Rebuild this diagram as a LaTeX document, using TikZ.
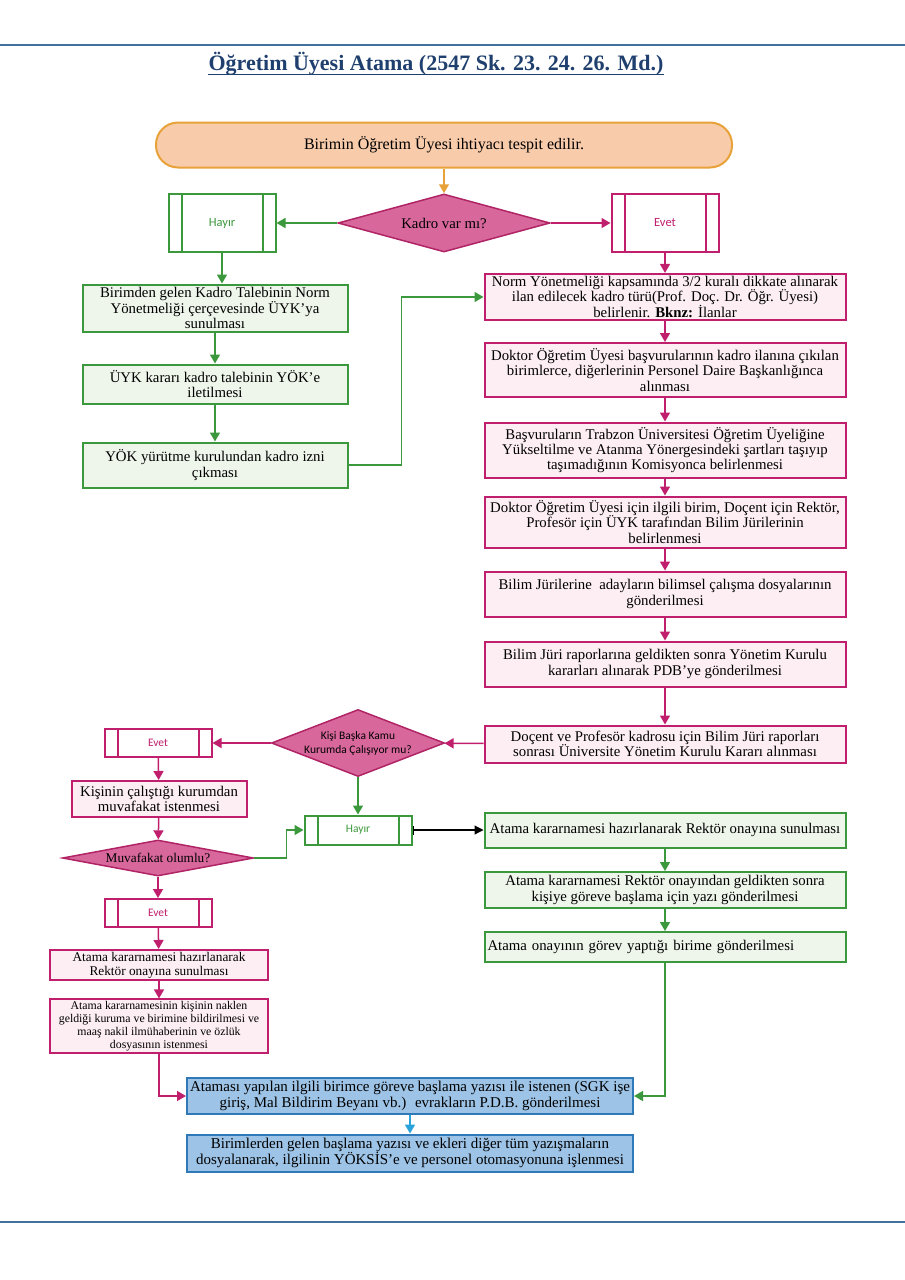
\documentclass[tikz,border=0pt]{standalone}
\usepackage{fontspec}
\setmainfont{Liberation Serif}
\newfontfamily\etiketfont{Carlito}
\usetikzlibrary{shapes.geometric,arrows.meta,positioning}

\definecolor{cizgimavi}{HTML}{41719C}
\definecolor{basliklacivert}{HTML}{1F3F6E}
\definecolor{turuncu}{HTML}{E8A23A}
\definecolor{seftali}{HTML}{F8CBAA}
\definecolor{yesil}{HTML}{3C983C}
\definecolor{acikyesil}{HTML}{EEF5EA}
\definecolor{pembe}{HTML}{C01F6E}
\definecolor{acikpembe}{HTML}{FCEEF3}
\definecolor{kararpembe}{HTML}{D8689C}
\definecolor{kararkenar}{HTML}{B02466}
\definecolor{mavi}{HTML}{2F79B8}
\definecolor{acikmavi}{HTML}{9DC3E6}
\definecolor{okmavi}{HTML}{2AA2DA}

\tikzset{govde/.style={font=\fontsize{14.8}{15.3}\selectfont,align=center,inner sep=2pt},
  basla/.style={govde,draw=turuncu,fill=seftali,line width=2pt,rounded corners=22pt,minimum width=576pt,minimum height=45pt},
  yesilkutu/.style={govde,draw=yesil,fill=acikyesil,line width=2pt,minimum width=361pt},
  pembekutu/.style={govde,draw=pembe,fill=acikpembe,line width=2pt,minimum width=361pt},
  mavikutu/.style={govde,draw=mavi,fill=acikmavi,line width=2pt,minimum width=446pt},
  karar/.style={govde,diamond,draw=kararkenar,fill=kararpembe,line width=1.5pt,inner sep=0pt},
  secim/.style={draw=#1,text=#1,fill=white,line width=2pt,minimum width=107pt,
    font=\etiketfont\fontsize{11.5}{13}\selectfont,
    path picture={\draw[#1,line width=2pt]
      ([xshift=13pt]path picture bounding box.north west) -- ([xshift=13pt]path picture bounding box.south west)
      ([xshift=-13pt]path picture bounding box.north east) -- ([xshift=-13pt]path picture bounding box.south east);}},
  ok/.style={line width=1.5pt,draw=#1,-{Triangle[length=9pt,width=10pt,fill=#1]}}}

\begin{document}
\begin{tikzpicture}[x=1pt,y=-1pt]
  \useasboundingbox (0,0) rectangle (905,1280);
  \draw [cizgimavi,line width=2pt] (0,45) -- (905,45);
  \draw [cizgimavi,line width=2pt] (0,1222) -- (905,1222);

  \node (baslik) [anchor=base,inner xsep=0pt,text=basliklacivert,font=\bfseries\fontsize{22}{26}\selectfont] at (436,70) {Öğretim Üyesi Atama (2547 Sk. 23. 24. 26. Md.)};
  \draw [basliklacivert,line width=1.5pt] ([yshift=-4.5pt]baslik.base west) -- ([yshift=-4.5pt]baslik.base east);

  \node (basla) [basla,font=\fontsize{16}{18}\selectfont] at (444,145) {Birimin Öğretim Üyesi ihtiyacı tespit edilir.};
  \node (kadro) [karar,aspect=3.66,minimum width=212pt,minimum height=58pt] at (444,223) {Kadro var mı?};
  \node (hayir1) [secim=yesil,minimum height=58pt,font=\etiketfont\fontsize{12.5}{14}\selectfont] at (222,223) {Hayır};
  \node (evet1) [secim=pembe,minimum height=58pt,font=\etiketfont\fontsize{12.5}{14}\selectfont] at (665,223) {Evet};

  \node (sol1) [yesilkutu,minimum width=265pt,minimum height=47pt] at (215,308) {Birimden gelen Kadro Talebinin Norm\\Yönetmeliği çerçevesinde ÜYK’ya\\sunulması};
  \node (sol2) [yesilkutu,minimum width=265pt,minimum height=39pt] at (215,384) {ÜYK kararı kadro talebinin YÖK’e\\iletilmesi};
  \node (sol3) [yesilkutu,minimum width=265pt,minimum height=45pt] at (215,465) {YÖK yürütme kurulundan kadro izni\\çıkması};

  \node (sag1) [pembekutu,minimum height=46pt] at (665,297) {Norm Yönetmeliği kapsamında 3/2 kuralı dikkate alınarak\\ilan edilecek kadro türü(Prof. Doç. Dr. Öğr. Üyesi)\\belirlenir. \textbf{Bknz:} İlanlar};
  \node (sag2) [pembekutu,minimum height=54pt] at (665,370) {Doktor Öğretim Üyesi başvurularının kadro ilanına çıkılan\\birimlerce, diğerlerinin Personel Daire Başkanlığınca\\alınması};
  \node (sag3) [pembekutu,minimum height=55pt] at (665,450) {Başvuruların Trabzon Üniversitesi Öğretim Üyeliğine\\Yükseltilme ve Atanma Yönergesindeki şartları taşıyıp\\taşımadığının Komisyonca belirlenmesi};
  \node (sag4) [pembekutu,minimum height=51pt] at (665,522) {Doktor Öğretim Üyesi için ilgili birim, Doçent için Rektör,\\Profesör için ÜYK tarafından Bilim Jürilerinin\\belirlenmesi};
  \node (sag5) [pembekutu,minimum height=45pt] at (665,594) {Bilim Jürilerine \ adayların bilimsel çalışma dosyalarının\\gönderilmesi};
  \node (sag6) [pembekutu,minimum height=45pt] at (665,664) {Bilim Jüri raporlarına geldikten sonra Yönetim Kurulu\\kararları alınarak PDB’ye gönderilmesi};
  \node (sag7) [pembekutu,minimum height=37pt] at (665,744) {Doçent ve Profesör kadrosu için Bilim Jüri raporları\\sonrası Üniversite Yönetim Kurulu Kararı alınması};

  \node (kisi) [karar,aspect=2.58,minimum width=173pt,minimum height=67pt,font=\etiketfont\fontsize{11.5}{14}\selectfont] at (358,743) {Kişi Başka Kamu\\Kurumda Çalışıyor mu?};
  \node (evet2) [secim=pembe,minimum height=28pt] at (158,743) {Evet};
  \node (kurum) [pembekutu,minimum width=175pt,minimum height=36pt] at (159,799) {Kişinin çalıştığı kurumdan\\muvafakat istenmesi};
  \node (muvafakat) [karar,aspect=5.3,minimum width=191pt,minimum height=36pt,font=\fontsize{13.3}{15}\selectfont] at (158,858) {Muvafakat olumlu?};
  \node (hayir2) [secim=yesil,minimum height=29pt] at (358,830) {Hayır};
  \node (evet3) [secim=pembe,minimum height=28pt] at (158,913) {Evet};
  \node (atama) [pembekutu,minimum width=218pt,minimum height=30pt,font=\fontsize{13.3}{14}\selectfont] at (159,965) {Atama kararnamesi hazırlanarak\\Rektör onayına sunulması};
  \node (nakil) [pembekutu,minimum width=218pt,minimum height=52pt,font=\fontsize{11.8}{12.8}\selectfont] at (159,1026) {Atama kararnamesinin kişinin naklen\\geldiği kuruma ve birimine bildirilmesi ve\\maaş nakil ilmühaberinin ve özlük\\dosyasının istenmesi};

  \node (yesil1) [yesilkutu,minimum height=35pt] at (665,830) {Atama kararnamesi hazırlanarak Rektör onayına sunulması};
  \node (yesil2) [yesilkutu,minimum height=36pt] at (665,890) {Atama kararnamesi Rektör onayından geldikten sonra\\kişiye göreve başlama için yazı gönderilmesi};
  \node (yesil3) [yesilkutu,text width=355pt,align=left,minimum height=30pt] at (665,947) {Atama onayının görev yaptığı birime gönderilmesi};

  \node (mavi1) [mavikutu,minimum height=36pt,font=\fontsize{15}{16}\selectfont] at (410,1096) {Ataması yapılan ilgili birimce göreve başlama yazısı ile istenen (SGK işe\\giriş, Mal Bildirim Beyanı vb.) \ evrakların P.D.B. gönderilmesi};
  \node (mavi2) [mavikutu,minimum height=37pt,font=\fontsize{15}{16}\selectfont] at (410,1153) {Birimlerden gelen başlama yazısı ve ekleri diğer tüm yazışmaların\\dosyalanarak, ilgilinin YÖKSİS’e ve personel otomasyonuna işlenmesi};

  \draw [ok=turuncu] (basla) -- (kadro);
  \draw [ok=yesil] (kadro) -- (hayir1);
  \draw [ok=pembe] (kadro) -- (evet1);
  \draw [ok=yesil] (hayir1.south) -- (sol1.north -| hayir1.south);
  \draw [ok=yesil] (sol1) -- (sol2);
  \draw [ok=yesil] (sol2) -- (sol3);
  \draw [ok=yesil] (sol3.east) -- ++(53,0) |- (sag1.west);
  \draw [ok=pembe] (evet1) -- (sag1);
  \draw [ok=pembe] (sag1) -- (sag2);
  \draw [ok=pembe] (sag2) -- (sag3);
  \draw [ok=pembe] (sag3) -- (sag4);
  \draw [ok=pembe] (sag4) -- (sag5);
  \draw [ok=pembe] (sag5) -- (sag6);
  \draw [ok=pembe] (sag6) -- (sag7);
  \draw [ok=pembe] (sag7) -- (kisi);
  \draw [ok=pembe] (kisi) -- (evet2);
  \draw [ok=yesil] (kisi) -- (hayir2);
  \draw [ok=pembe] (evet2) -- (kurum);
  \draw [ok=pembe] (kurum) -- (muvafakat);
  \draw [ok=yesil] (muvafakat.east) -- ++(32,0) |- (hayir2.west);
  \draw [ok=pembe] (muvafakat) -- (evet3);
  \draw [ok=pembe] (evet3) -- (atama);
  \draw [ok=pembe] (atama) -- (nakil);
  \draw [line width=1.2pt,{Bar[width=9pt]}-{Triangle[length=9pt,width=9pt]}] (hayir2) -- (yesil1);
  \draw [ok=yesil] (yesil1) -- (yesil2);
  \draw [ok=yesil] (yesil2) -- (yesil3);
  \draw [ok=yesil] (yesil3.south) |- (mavi1.east);
  \draw [ok=pembe] (nakil.south) |- (mavi1.west);
  \draw [ok=okmavi] (mavi1) -- (mavi2);
\end{tikzpicture}
\end{document}
